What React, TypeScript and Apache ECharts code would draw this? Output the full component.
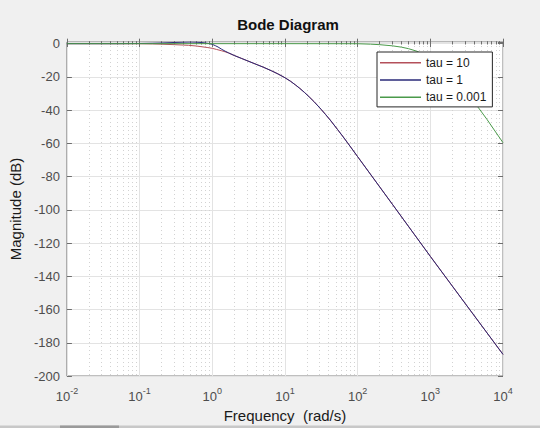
import React, { useEffect, useRef } from "react";
import * as echarts from "echarts";

// ---- data ----
const seriesNames = ["tau = 10", "tau = 1", "tau = 0.001"];

const freqTau10 = [0.01, 0.1, 0.15, 0.2, 0.3, 0.4, 0.47, 0.6, 0.7, 0.85, 1.0, 1.15, 1.35, 1.5, 1.67, 2, 2.5, 3, 4, 5, 6.5, 8, 10, 12, 14, 16, 18.6, 22, 25, 31.4, 36, 42, 53, 62, 72.8, 100, 300, 1000, 3000, 10000];
const magTau10 = [0, -0.05, -0.15, -0.3, -0.6, -0.85, -1.0, -1.4, -1.8, -2.3, -2.8, -3.5, -4.3, -4.9, -5.6, -7.1, -8.8, -10.2, -12.4, -14.1, -16.3, -18.2, -20.5, -22.7, -24.9, -26.9, -29.4, -32.4, -34.8, -39.5, -42.5, -46.0, -51.7, -55.6, -59.7, -68.0, -96.6, -128, -156.2, -187];

const freqTau1 = [0.01, 0.05, 0.1, 0.15, 0.2, 0.3, 0.4, 0.5, 0.6, 0.7, 0.8, 0.9, 1.0, 1.1, 1.2, 1.35, 1.5, 1.67, 2, 2.5, 3, 4, 5, 6.5, 8, 10, 12, 14, 16, 18.6, 22, 25, 31.4, 36, 42, 53, 62, 72.8, 100, 300, 1000, 3000, 10000];
const magTau1 = [0, 0, 0.1, 0.25, 0.4, 0.7, 0.9, 1.0, 0.9, 0.7, 0.4, 0.05, -0.4, -1.2, -2, -3.4, -4.5, -5.5, -7.1, -8.8, -10.2, -12.4, -14.1, -16.3, -18.2, -20.5, -22.7, -24.9, -26.9, -29.4, -32.4, -34.8, -39.5, -42.5, -46.0, -51.7, -55.6, -59.7, -68.0, -96.6, -128, -156.2, -187];

const freqTau0001 = [0.01, 10, 100, 150, 200, 300, 400, 500, 658, 800, 1000, 1250, 1500, 2000, 2500, 3000, 4600, 6000, 10000];
const magTau0001 = [0, 0, -0.05, -0.3, -0.6, -1.3, -2.1, -3, -4.6, -6.6, -9, -12.4, -15.5, -21, -25.8, -30, -38.6, -45.5, -59.6];

const seriesColors = ["#b4505a", "#2a2a78", "#4a9a4a"];

const xMin = 0.01;
const xMax = 10000;
const yMin = -200;
const yMax = 1;
const yStep = 20;
const decadeExponents = [-2, -1, 0, 1, 2, 3];
const minorMultipliers = [2, 3, 4, 5, 6, 7, 8, 9];

const titleText = "Bode Diagram";
const xName = "Frequency  (rad/s)";
const yName = "Magnitude (dB)";

export default function App() {
  const ref = useRef<HTMLDivElement>(null);

  useEffect(() => {
    if (!ref.current) return;
    const chart = echarts.init(ref.current, null, { renderer: "svg" });

    const pairs = (fx: number[], my: number[]) => fx.map((f, i) => [f, my[i]]);
    const minorValues: number[] = [];
    decadeExponents.forEach((e) => {
      minorMultipliers.forEach((k) => {
        minorValues.push(Number((k * Math.pow(10, e)).toPrecision(6)));
      });
    });

    const font = "'Liberation Sans', Arial, Helvetica, sans-serif";
    const tickColor = "#6e6e6e";
    const labelColor = "#4d4d4d";

    const commonX = {
      type: "log" as const,
      logBase: 10,
      min: xMin,
      max: xMax,
      gridIndex: 0,
    };

    const option: any = {
      animation: false,
      backgroundColor: "#f0f0f0",
      textStyle: { fontFamily: font },
      title: {
        text: titleText,
        left: 283,
        textAlign: "center",
        top: 12,
        textStyle: { fontSize: 15, fontWeight: "bold", color: "#111", fontFamily: font },
      },
      grid: {
        left: 64,
        right: 37,
        top: 42,
        bottom: 52,
        show: true,
        backgroundColor: "#ffffff",
        borderColor: "#7f7f7f",
        borderWidth: 1,
      },
      legend: {
        orient: "vertical",
        left: 377,
        top: 52,
        backgroundColor: "#ffffff",
        borderColor: "#262626",
        borderWidth: 1,
        borderRadius: 0,
        padding: [2, 6, 1, 3],
        itemWidth: 41,
        itemHeight: 1.5,
        itemGap: 0,
        icon: "rect",
        textStyle: { fontSize: 12, lineHeight: 17.3, color: "#1a1a1a", fontFamily: font },
        data: seriesNames,
      },
      xAxis: [
        {
          ...commonX,
          position: "bottom",
          name: xName,
          nameLocation: "middle",
          nameGap: 30,
          nameTextStyle: { fontSize: 15, color: "#1a1a1a", fontFamily: font },
          axisLine: { show: false },
          axisTick: { show: true, inside: true, length: 5, lineStyle: { color: tickColor } },
          splitLine: { show: true, lineStyle: { color: "#e3e3e3", width: 1 } },
          axisLabel: {
            margin: 10,
            formatter: (v: number) => {
              const e = Math.round(Math.log10(v));
              return `{b|10}{s|${e}}`;
            },
            rich: {
              b: { fontSize: 13, color: labelColor, fontFamily: font, verticalAlign: "bottom" },
              s: { fontSize: 9, color: labelColor, fontFamily: font, padding: [0, 0, 8, 0], verticalAlign: "bottom" },
            },
          },
        },
        {
          ...commonX,
          position: "bottom",
          axisLine: { show: false },
          axisLabel: { show: false },
          axisTick: { show: true, inside: true, length: 2.5, customValues: minorValues, lineStyle: { color: tickColor } },
          splitLine: { show: true, lineStyle: { color: "#d2d2d2", type: [1, 3], width: 1 } },
        },
        {
          ...commonX,
          position: "top",
          axisLine: { show: false },
          axisLabel: { show: false },
          axisTick: { show: true, inside: true, length: 5, lineStyle: { color: tickColor } },
          splitLine: { show: false },
        },
        {
          ...commonX,
          position: "top",
          axisLine: { show: false },
          axisLabel: { show: false },
          axisTick: { show: true, inside: true, length: 2.5, customValues: minorValues, lineStyle: { color: tickColor } },
          splitLine: { show: false },
        },
      ],
      yAxis: [
        {
          type: "value",
          min: yMin,
          max: yMax,
          interval: yStep,
          position: "left",
          name: yName,
          nameLocation: "middle",
          nameGap: 40,
          nameTextStyle: { fontSize: 15, color: "#1a1a1a", fontFamily: font },
          axisLine: { show: false },
          axisTick: { show: true, inside: true, length: 5, lineStyle: { color: tickColor } },
          splitLine: { show: true, lineStyle: { color: "#e3e3e3", width: 1 } },
          axisLabel: { margin: 7, fontSize: 13, color: labelColor, fontFamily: font, showMaxLabel: false },
        },
        {
          type: "value",
          min: yMin,
          max: yMax,
          interval: yStep,
          position: "right",
          axisLine: { show: false },
          axisTick: { show: true, inside: true, length: 5, lineStyle: { color: tickColor } },
          splitLine: { show: false },
          axisLabel: { show: false },
        },
      ],
      series: [
        { name: seriesNames[0], data: pairs(freqTau10, magTau10), color: seriesColors[0] },
        { name: seriesNames[1], data: pairs(freqTau1, magTau1), color: seriesColors[1] },
        { name: seriesNames[2], data: pairs(freqTau0001, magTau0001), color: seriesColors[2] },
      ].map((s) => ({
        type: "line",
        name: s.name,
        data: s.data,
        xAxisIndex: 0,
        yAxisIndex: 0,
        showSymbol: false,
        symbol: "none",
        smooth: false,
        lineStyle: { color: s.color, width: 1 },
        itemStyle: { color: s.color },
      })),
      graphic: [
        { type: "rect", silent: true, shape: { x: 0, y: 425.5, width: 540, height: 2.5 }, style: { fill: "#c8c8c8" } },
        { type: "rect", silent: true, shape: { x: 60, y: 425.5, width: 59, height: 2.5 }, style: { fill: "#9a9a9a" } },
      ],
    };

    chart.setOption(option);
    return () => chart.dispose();
  }, []);

  return (
    <div
      ref={ref}
      style={{ position: "absolute", left: 0, top: 0, width: 540, height: 428, background: "#f0f0f0" }}
    />
  );
}
